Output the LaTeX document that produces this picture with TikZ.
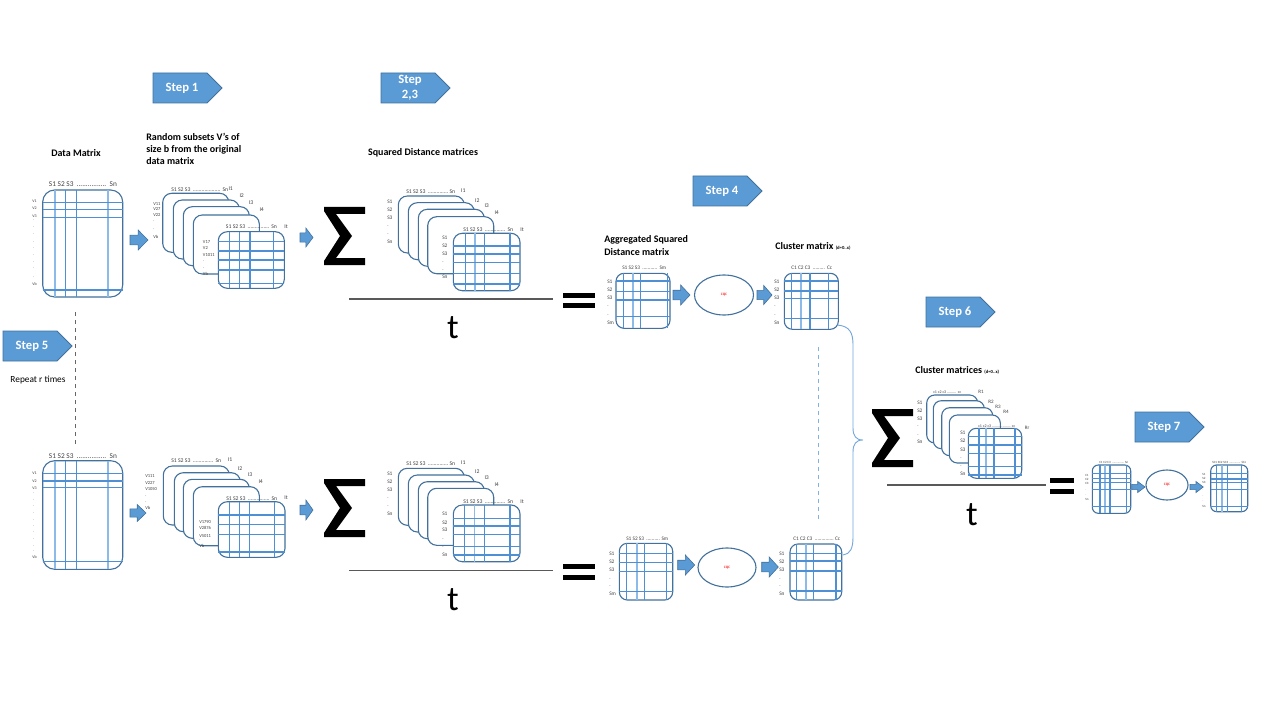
\documentclass[tikz,border=0pt]{standalone}
\usepackage{fontspec}
\setmainfont{Carlito}
\usetikzlibrary{shapes.geometric}
\newlength\pxu \setlength\pxu{0.75pt}
\definecolor{mborder}{HTML}{41719C}
\definecolor{gblue}{HTML}{4F90D4}
\definecolor{glight}{HTML}{8DBBE8}
\definecolor{sfill}{HTML}{5B9BD5}
\definecolor{lab}{HTML}{404040}
% dense dotted leader used inside the column headers
\newcommand\dd{\leaders\hbox{.}\hfill}
\newcommand\hdrbox[2]{\makebox[#1\pxu]{#2}}
% grid matrix: x0,y0,x1,y1,radius,medium verticals,light verticals,horizontals
\newcommand\gmat[8]{%
  \draw[matb, rounded corners=#5\pxu] (#1,#2) rectangle (#3,#4);
  \foreach \q in {#7} {\draw[gll] (\q,#2) -- (\q,#4);}
  \foreach \q in {#6} {\draw[gl] (\q,#2) -- (\q,#4);}
  \foreach \q in {#8} {\draw[gl] (#1,\q) -- (#3,\q);}
}
% stacked back cards: width,height,radius,list of x/y
\newcommand\cards[4]{%
  \foreach \cx/\cy in {#4} {\draw[card, rounded corners=#3\pxu] (\cx,\cy) rectangle ++(#1,#2);}
}
% block arrow: x0, y centre, length, height
\newcommand\barrow[4]{%
  \filldraw[barr, shift={(#1,#2)}] (0,{-0.24*#4}) -- ({0.45*#3},{-0.24*#4}) -- ({0.45*#3},{-0.5*#4})
    -- (#3,0) -- ({0.45*#3},{0.5*#4}) -- ({0.45*#3},{0.24*#4}) -- (0,{0.24*#4}) -- cycle;
}
% large summation sign drawn as a filled outline: x0,y0
\newcommand\sumsign[2]{%
  \fill[black, shift={(#1,#2)}] (0,0) -- (41,0) -- (41,7) -- (12,7) -- (28,29) -- (12,51)
    -- (41,51) -- (41,58) -- (0,58) -- (0,54) -- (16,29) -- (0,4) -- cycle;
}
% pentagon step marker: name, x0, y0, text
\newcommand\stepmark[4]{%
  \filldraw[stepbox, shift={(#2,#3)}] (0,0) -- (54,0) -- (69,15) -- (54,30) -- (0,30) -- cycle;
  \node[steptxt] (#1) at ({#2+29},{#3+15}) {#4};
}
\tikzset{
  matb/.style={draw=mborder, fill=white, line width=1.1\pxu},
  card/.style={draw=mborder, fill=white, line width=1.1\pxu},
  gl/.style={draw=gblue, line width=1.3\pxu},
  gll/.style={draw=glight, line width=1.6\pxu},
  barr/.style={fill=sfill, draw=mborder, line width=0.6\pxu},
  stepbox/.style={fill=sfill, draw=mborder, line width=0.8\pxu},
  steptxt/.style={text=white, font=\bfseries\fontsize{9.5}{11.5}\selectfont, align=center, inner sep=0},
  ttl/.style={font=\bfseries\fontsize{7.5}{9}\selectfont, inner sep=0, align=left},
  hd/.style={font=\fontsize{4.3}{5}\selectfont, text=lab, inner sep=0, anchor=west},
  rl/.style={font=\fontsize{3.4}{4}\selectfont, text=lab, inner sep=0, anchor=west},
  sl/.style={font=\fontsize{4}{5}\selectfont, text=lab, inner sep=0, anchor=west},
  il/.style={font=\fontsize{4.3}{5}\selectfont, text=lab, inner sep=0},
  frac/.style={draw=black!65, line width=1.3\pxu},
  bigt/.style={font=\fontsize{26}{30}\selectfont, inner sep=0},
  eqbar/.style={fill=black},
  ellnode/.style={ellipse, draw=mborder, fill=white, line width=1.1\pxu, inner sep=0,
    font=\fontsize{3.5}{4}\selectfont, text=red},
}
\begin{document}
\begin{tikzpicture}[x=0.75pt, y=-0.75pt]
\fill[white] (0,0) rectangle (1280,720);
\useasboundingbox (0,0) rectangle (1280,720);

% ---------- step markers ----------
\stepmark{s1}{153}{73}{Step 1}
\stepmark{s23}{381}{73}{Step\\2,3}
\stepmark{s4}{693}{176}{Step 4}
\stepmark{s5}{3}{331}{Step 5}
\stepmark{s6}{926}{297}{Step 6}
\stepmark{s7}{1135}{412}{Step 7}
\node[font=\fontsize{7}{8}\selectfont, inner sep=0] (rep) at (38,380) {Repeat r times};
\draw[black!60, dashed, line width=0.7\pxu] (75,312) -- (75,446);

% ---------- titles ----------
\node[ttl] (tdm) at (76,153) {Data Matrix};
\node[ttl, anchor=north west, font=\bfseries\fontsize{7.5}{9}\selectfont] (trs) at (146,133)
  {Random subsets V’s of\\size b from the original\\data matrix};
\node[ttl] (tsd) at (423,153) {Squared Distance matrices};
\node[ttl, anchor=west] (tag1) at (604,239.5) {Aggregated Squared};
\node[ttl, anchor=west] (tag2) at (604,252.5) {Distance matrix};
\node[ttl, anchor=west] (tcm) at (775,246) {Cluster matrix {\fontsize{3.5}{4}\selectfont(d=0..x)}};
\node[ttl, anchor=west] (tcms) at (915,370) {Cluster matrices {\fontsize{3.5}{4}\selectfont(d=0..x)}};

% ================= upper run =================
% data matrix
\gmat{42.7}{190}{122.7}{297}{12}{65.7,76.7}{55,107.7}{202.7,209.3,217.3,290}
\node[hd, font=\fontsize{5.5}{6}\selectfont] (dmh1) at (48.7,184) {\hdrbox{68}{S1 S2 S3 \dd{} Sn}};
\foreach \t/\yy in {V1/201,V2/208,V3/216,Vb/284.3} {\node[rl, font=\fontsize{3}{4}\selectfont] at (32,\yy) {\t};}
\foreach \yy in {220,227,234,242,248,255,262,268,277} {\node[rl, font=\fontsize{3}{4}\selectfont] at (33,\yy) {.};}
\barrow{130}{240}{18}{20}

% random subset stack
\cards{66}{59}{9}{162.7/193.3,173.3/200,183.3/206.7,193.3/215}
\gmat{218.3}{231.7}{284.3}{288.3}{9}{229.3,239.3,250,273.3}{229.3}{241.7,251,260,270,283.3}
\node[hd] at (171,190) {\hdrbox{57}{S1 S2 S3 \dd{} Sn}};
\node[hd] at (225.7,226.7) {\hdrbox{51}{S1 S2 S3 \dd{} Sn}};
\foreach \t/\xx/\yy in {I1/230.7/188.3,I2/241.7/196,I3/251/202.7,I4/261.7/210,It/286/226.7} {\node[il] at (\xx,\yy) {\t};}
\foreach \t/\yy in {V11/204,V27/209.5,V22/215,./221.7,./229.3,Vb/236.7} {\node[rl] at (153,\yy) {\t};}
\foreach \t/\yy in {V17/241.7,V2/248.3,V1011/255,./261.7,./268.3,Vb/274.3} {\node[rl] at (202.7,\yy) {\t};}
\barrow{300}{237.5}{13}{19}
\sumsign{324}{207}

% squared distance stack
\cards{66}{57}{9}{398.3/196,408.3/202.7,418.3/209.3,427.7/216.7}
\gmat{453.3}{233.3}{520}{290.7}{9}{465.7,484.3,510}{475}{246,254,262.7,273.3,284}
\node[hd] at (406,191.7) {\hdrbox{49}{S1 S2 S3 \dd{} Sn}};
\node[hd] at (463,229.3) {\hdrbox{50}{S1 S2 S3 \dd{} Sn}};
\foreach \t/\xx/\yy in {I1/463.3/190.7,I2/477.3/200.7,I3/486.7/206,I4/496.7/212.7,It/522/230} {\node[il] at (\xx,\yy) {\t};}
\foreach \t/\yy in {S1/201.7,S2/209.3,S3/217.3,./226,./234.3,Sn/241.7} {\node[sl] at (387,\yy) {\t};}
\foreach \t/\yy in {S1/237.7,S2/245.7,S3/253.3,./262,./270,Sn/276.7} {\node[sl] at (442,\yy) {\t};}
\draw[frac] (349,299) -- (553,299);
\node[bigt] (t1) at (453,328) {t};
\fill[eqbar] (563,292.5) rectangle (595,297.5);
\fill[eqbar] (563,302.5) rectangle (595,307.5);

% aggregated matrix, clustering, cluster matrix
\gmat{616}{273.3}{670}{328.3}{8}{623.3,640.7,667.3}{632.7}{281,291.7,300,316.7}
\node[hd, font=\fontsize{4}{5}\selectfont] at (622,267.7) {\hdrbox{44}{S1 S2 S3 \dd{} Sm}};
\foreach \t/\yy in {S1/281.7,S2/290,S3/297.3,./306.7,./315,Sm/322.7} {\node[sl] at (607,\yy) {\t};}
\barrow{673}{295}{17}{20}
\node[ellnode, minimum width=59\pxu, minimum height=40\pxu] (e1) at (724,295) {cqc};
\barrow{757}{295}{15}{19}
\gmat{784.3}{273.3}{838.3}{329.3}{8}{791.7,810,828.3}{801}{281,291,298.3,318.3}
\node[hd, font=\fontsize{4}{5}\selectfont] at (791,267.7) {\hdrbox{41}{C1 C2 C3 \dd{} Cc}};
\foreach \t/\yy in {S1/281.7,S2/289.7,S3/297.3,./306.7,./315,Sn/322.7} {\node[sl] at (774,\yy) {\t};}

% ================= lower run =================
\gmat{42.7}{460.7}{122.7}{569.3}{12}{65.7,76.7}{55,107.7}{473.3,481,487.7,561.7}
\node[hd, font=\fontsize{5.5}{6}\selectfont] (dmh2) at (48.7,456) {\hdrbox{68}{S1 S2 S3 \dd{} Sn}};
\foreach \t/\yy in {V1/473.3,V2/481,V3/488,Vb/556.7} {\node[rl, font=\fontsize{3}{4}\selectfont] at (32,\yy) {\t};}
\foreach \yy in {493.3,500,506.7,513.3,520,526,532.7,539.3,546,551.7} {\node[rl, font=\fontsize{3}{4}\selectfont] at (33,\yy) {.};}
\barrow{130}{513}{16}{17}

\cards{66}{59}{9}{163.3/466,174.3/472.7,183.3/479.3,193.3/486.7}
\gmat{218.3}{501.7}{285}{557.3}{9}{229.3,239.3,249.3,274.3}{229.3}{515,524.3,534.3,552}
\node[hd] at (171,460.7) {\hdrbox{50}{S1 S2 S3 \dd{} Sn}};
\node[hd] at (226,498.3) {\hdrbox{51}{S1 S2 S3 \dd{} Sn}};
\foreach \t/\xx/\yy in {I1/230/460,I2/240/468.3,I3/250/474.3,I4/260.7/481.7,It/286/497.3} {\node[il] at (\xx,\yy) {\t};}
\foreach \t/\yy in {V111/476,V227/482.7,V1050/489.3,./496.7,./502.7,Vb/508.3} {\node[rl] at (145,\yy) {\t};}
\foreach \t/\yy in {V1790/521.7,V2876/528.3,V5011/535.7,./540.7,Vb/546} {\node[rl] at (199,\yy) {\t};}
\barrow{300}{510}{13}{20}
\sumsign{324}{479}

\cards{66}{57}{9}{398.3/468.3,408.3/475,418.3/481.7,427.7/488.3}
\gmat{453.3}{505}{520}{561.7}{9}{464.3,484.3,510}{474.3}{518.3,526,534.3,546.7,555}
\node[hd] at (406,464) {\hdrbox{49}{S1 S2 S3 \dd{} Sn}};
\node[hd] at (463,501.7) {\hdrbox{50}{S1 S2 S3 \dd{} Sn}};
\foreach \t/\xx/\yy in {I1/463.3/462.7,I2/477.3/471.7,I3/486.7/477.3,I4/496.7/484.3,It/522/502} {\node[il] at (\xx,\yy) {\t};}
\foreach \t/\yy in {S1/473.3,S2/481.7,S3/489.3,./498.3,./506.7,Sn/513.3} {\node[sl] at (387,\yy) {\t};}
\foreach \t/\yy in {S1/514,S2/522.3,S3/530,./539,./547.3,Sn/554.3} {\node[sl] at (442,\yy) {\t};}
\draw[frac] (349,570.7) -- (553,570.7);
\node[bigt] (t2) at (453,600) {t};
\fill[eqbar] (563,564) rectangle (595,569);
\fill[eqbar] (563,575) rectangle (595,580);

\gmat{619.3}{543.3}{672.7}{600}{8}{626.7,644.3,666.7}{636.7}{553.3,562.7,571.7,591.7}
\node[hd, font=\fontsize{4}{5}\selectfont] at (626,539) {\hdrbox{42}{S1 S2 S3 \dd{} Sm}};
\foreach \t/\yy in {S1/553.3,S2/561.7,S3/569.3,./579.3,./586,Sm/593.3} {\node[sl] at (609,\yy) {\t};}
\barrow{677.7}{565}{17}{20}
\node[ellnode, minimum width=58\pxu, minimum height=39\pxu] (e2) at (727,567.5) {cqc};
\barrow{761.7}{567}{16.6}{20}
\gmat{790}{544}{841.7}{600}{8}{796.7,813.3,836}{806}{553.3,561,571,591}
\node[hd, font=\fontsize{4}{5}\selectfont] at (793,539) {\hdrbox{47}{C1 C2 C3 \dd{} Cc}};
\foreach \t/\yy in {S1/553.3,S2/561.7,S3/569.3,./579.3,./586,Sn/593.3} {\node[sl] at (779,\yy) {\t};}

% ---------- joining the r runs ----------
\draw[glight!80!gblue, dashed, line width=0.8\pxu] (818,347) -- (818,520);
\draw[gblue!80, line width=0.9\pxu] (837,325) .. controls (850,326) and (853,333) .. (853,345)
  -- (853,428) .. controls (853,436) and (856,440) .. (863,440)
  .. controls (856,440) and (853,444) .. (853,452)
  -- (853,537) .. controls (853,549) and (850,554) .. (843,555);

% ---------- cluster matrices sum ----------
\sumsign{872}{409}
\cards{51}{48}{8}{926.7/395,933.3/400.7,941.7/407.7,949.3/415}
\gmat{968.3}{428.3}{1021.7}{478.3}{8}{979,994,1015}{986}{436.7,445,453.3,466.7,475}
\node[hd, font=\fontsize{3}{4}\selectfont] at (933,392.7) {\hdrbox{28}{c1 c2 c3 \dd{} cc}};
\node[hd, font=\fontsize{3}{4}\selectfont] at (978,426.5) {\hdrbox{37}{c1 c2 c3 \dd{} cc}};
\foreach \t/\xx/\yy in {R1/981/391.7,R2/991/401.7,R3/998/406.7,R4/1006/412.3,Rr/1027/427.5} {\node[il, font=\fontsize{3.8}{4}\selectfont] at (\xx,\yy) {\t};}
\foreach \t/\yy in {S1/402.7,S2/410.7,S3/418.3,./426.7,./435,Sn/441.7} {\node[sl] at (917,\yy) {\t};}
\foreach \t/\yy in {S1/432.7,S2/441,S3/449.3,./458.3,./466.7,Sn/474} {\node[sl] at (960,\yy) {\t};}
\draw[frac] (887,485) -- (1046,485);
\node[bigt] (t3) at (972,515) {t};
\fill[eqbar] (1050,478) rectangle (1074,483);
\fill[eqbar] (1050,488.5) rectangle (1074,493.5);

% ---------- final consensus ----------
\gmat{1092.3}{465}{1130.7}{513.3}{6}{1100,1110,1126.7}{1105}{473.3,478.3,482.7,489.3,506.7}
\node[hd, font=\fontsize{2.4}{3}\selectfont] at (1099,462.5) {\hdrbox{29}{C1 C2 C3 \dd{} Sn}};
\foreach \t/\yy in {C1/475,C2/479.3,C3/483.3,./490,./495,Sn/499.3} {\node[rl, font=\fontsize{2.4}{3}\selectfont] at (1085,\yy) {\t};}
\barrow{1131.7}{487}{13.3}{11}
\node[ellnode, minimum width=42\pxu, minimum height=30\pxu] (e3) at (1167,485) {cqc};
\barrow{1190}{487}{13.3}{11}
\gmat{1210.7}{465}{1247.7}{511.7}{6}{1216.7,1227.7,1241.7}{1221.7}{473.3,479,482.7,489.3,506.7}
\node[hd, font=\fontsize{2.4}{3}\selectfont] at (1212,462.5) {\hdrbox{34}{SC1 SC2 SC3 \dd{} SCc}};
\foreach \t/\yy in {S1/474.3,S2/478.7,S3/482.7,./490,./496,./501.7,Sn/506.7} {\node[rl, font=\fontsize{2.4}{3}\selectfont] at (1202,\yy) {\t};}
\end{tikzpicture}
\end{document}
